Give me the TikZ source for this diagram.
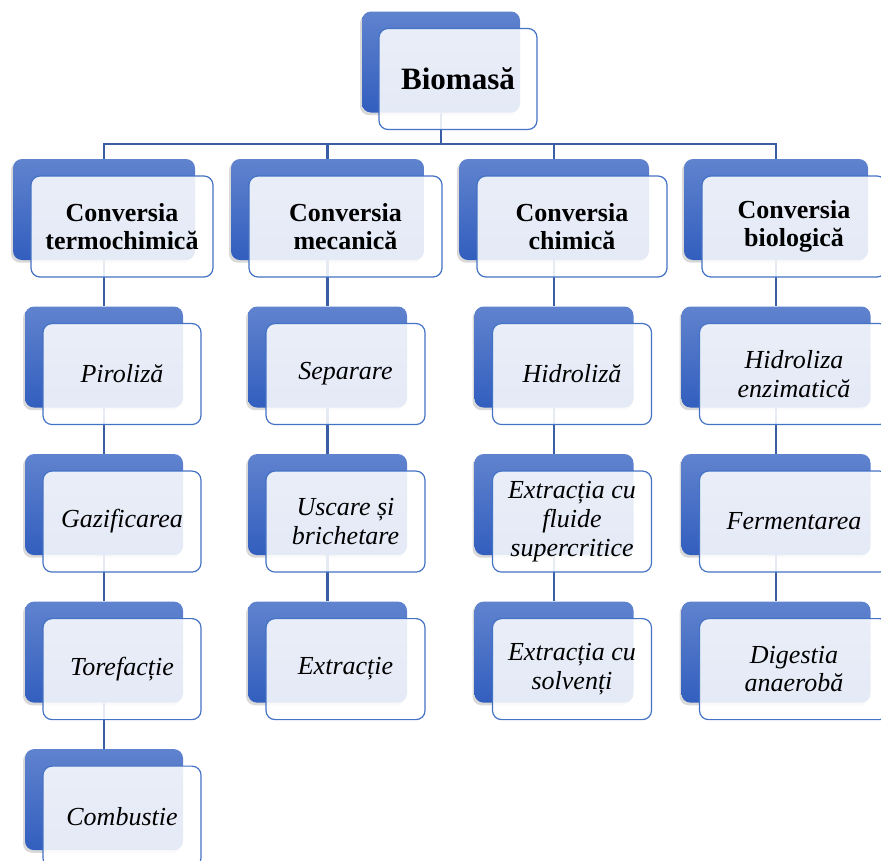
\documentclass[tikz,border=0pt]{standalone}
\usepackage{fontspec}
\setmainfont{Liberation Serif}
\usetikzlibrary{positioning,shadows}
\newlength\pu
\setlength\pu{0.75pt}
\definecolor{bktop}{RGB}{96,131,206}
\definecolor{bkbot}{RGB}{50,94,190}
\definecolor{rim}{RGB}{68,114,196}
\definecolor{wirec}{RGB}{58,94,166}
\tikzset{
	back/.style={rectangle, rounded corners=9\pu, top color=bktop, bottom color=bkbot,
		minimum height=101\pu, inner sep=0pt,
		drop shadow={shadow xshift=-1.5pt, shadow yshift=-2pt, opacity=0.3}},
	front/.style={rectangle, rounded corners=9\pu, draw=rim, line width=1.2\pu,
		fill=white, fill opacity=0.87, text opacity=1,
		minimum height=101\pu, inner sep=0pt, align=center},
	wd/.style={minimum width=#1\pu},
	head/.style={font=\fontsize{19.5}{20.5}\selectfont\bfseries},
	item/.style={font=\fontsize{19.5}{21.5}\selectfont\itshape},
	wire/.style={draw=wirec, line width=2.6\pu}
}

\begin{document}
\begin{tikzpicture}[x=0.75pt, y=-0.75pt]
	\useasboundingbox (0,0) rectangle (881,860);
	\clip (0,0) rectangle (881,860);
	
	% back plates
	\node[back, wd=158] (bio-b) at (441,62) {};
	\node[back, wd=182] (c1-b) at (104,209.5) {};
	\node[back, wd=193] (c2-b) at (327.5,209.5) {};
	\node[back, wd=190] (c3-b) at (554,209.5) {};
	\node[back, wd=184] (c4-b) at (776,209.5) {};
	
	\node[back, wd=158, below=46\pu of c1-b] (pir-b) {};
	\node[back, wd=158, below=46\pu of pir-b] (gaz-b) {};
	\node[back, wd=158, below=46\pu of gaz-b] (tor-b) {};
	\node[back, wd=158, below=46\pu of tor-b] (comb-b) {};
	
	\node[back, wd=159, below=46\pu of c2-b] (sep-b) {};
	\node[back, wd=159, below=46\pu of sep-b] (usc-b) {};
	\node[back, wd=159, below=46\pu of usc-b] (ext-b) {};
	
	\node[back, wd=159, below=46\pu of c3-b] (hid-b) {};
	\node[back, wd=159, below=46\pu of hid-b] (scf-b) {};
	\node[back, wd=159, below=46\pu of scf-b] (solv-b) {};
	
	\node[back, wd=189, below=46\pu of c4-b] (enz-b) {};
	\node[back, wd=189, below=46\pu of enz-b] (ferm-b) {};
	\node[back, wd=189, below=46\pu of ferm-b] (dig-b) {};
	
	% connectors
	\coordinate (hub) at (bio-b |- 0,144);
	\draw[wire] (bio-b) -- (hub);
	\draw[wire] (c1-b) |- (hub) -| (c4-b);
	\draw[wire] (hub) -| (c2-b);
	\draw[wire] (hub) -| (c3-b);
	\draw[wire] (c1-b) -- (pir-b) -- (gaz-b) -- (tor-b) -- (comb-b);
	\draw[wire] (c2-b) -- (sep-b) -- (usc-b) -- (ext-b);
	\draw[wire] (c3-b) -- (hid-b) -- (scf-b) -- (solv-b);
	\draw[wire] (c4-b) -- (enz-b) -- (ferm-b) -- (dig-b);
	
	% front cards
	\node[front, wd=158, font=\fontsize{23.3}{26}\selectfont\bfseries] (bio) at ([shift={(17,17)}]bio-b) {Biomasă};
	\node[front, head, wd=182] (c1) at ([shift={(18,17)}]c1-b) {Conversia\\termochimică};
	\node[front, head, wd=193] (c2) at ([shift={(18,17)}]c2-b) {Conversia\\mecanică};
	\node[front, head, wd=190] (c3) at ([shift={(18,17)}]c3-b) {Conversia\\chimică};
	\node[front, head, wd=184] (c4) at ([shift={(18,17)}]c4-b) {Conversia\\biologică};
	
	\node[front, item, wd=158] (pir) at ([shift={(18,17)}]pir-b) {Piroliză};
	\node[front, item, wd=158] (gaz) at ([shift={(18,17)}]gaz-b) {Gazificarea};
	\node[front, item, wd=158] (tor) at ([shift={(18,17)}]tor-b) {Torefacție};
	\node[front, item, wd=158] (comb) at ([shift={(18,17)}]comb-b) {Combustie};
	
	\node[front, item, wd=159] (sep) at ([shift={(18,17)}]sep-b) {Separare};
	\node[front, item, wd=159] (usc) at ([shift={(18,17)}]usc-b) {Uscare și\\brichetare};
	\node[front, item, wd=159] (ext) at ([shift={(18,17)}]ext-b) {Extracție};
	
	\node[front, item, wd=159] (hid) at ([shift={(18,17)}]hid-b) {Hidroliză};
	\node[front, item, wd=159] (scf) at ([shift={(18,17)}]scf-b) {Extracția cu\\fluide\\supercritice};
	\node[front, item, wd=159] (solv) at ([shift={(18,17)}]solv-b) {Extracția cu\\solvenți};
	
	\node[front, item, wd=189] (enz) at ([shift={(18,17)}]enz-b) {Hidroliza\\enzimatică};
	\node[front, item, wd=189] (ferm) at ([shift={(18,17)}]ferm-b) {Fermentarea};
	\node[front, item, wd=189] (dig) at ([shift={(18,17)}]dig-b) {Digestia\\anaerobă};
\end{tikzpicture}
\end{document}
